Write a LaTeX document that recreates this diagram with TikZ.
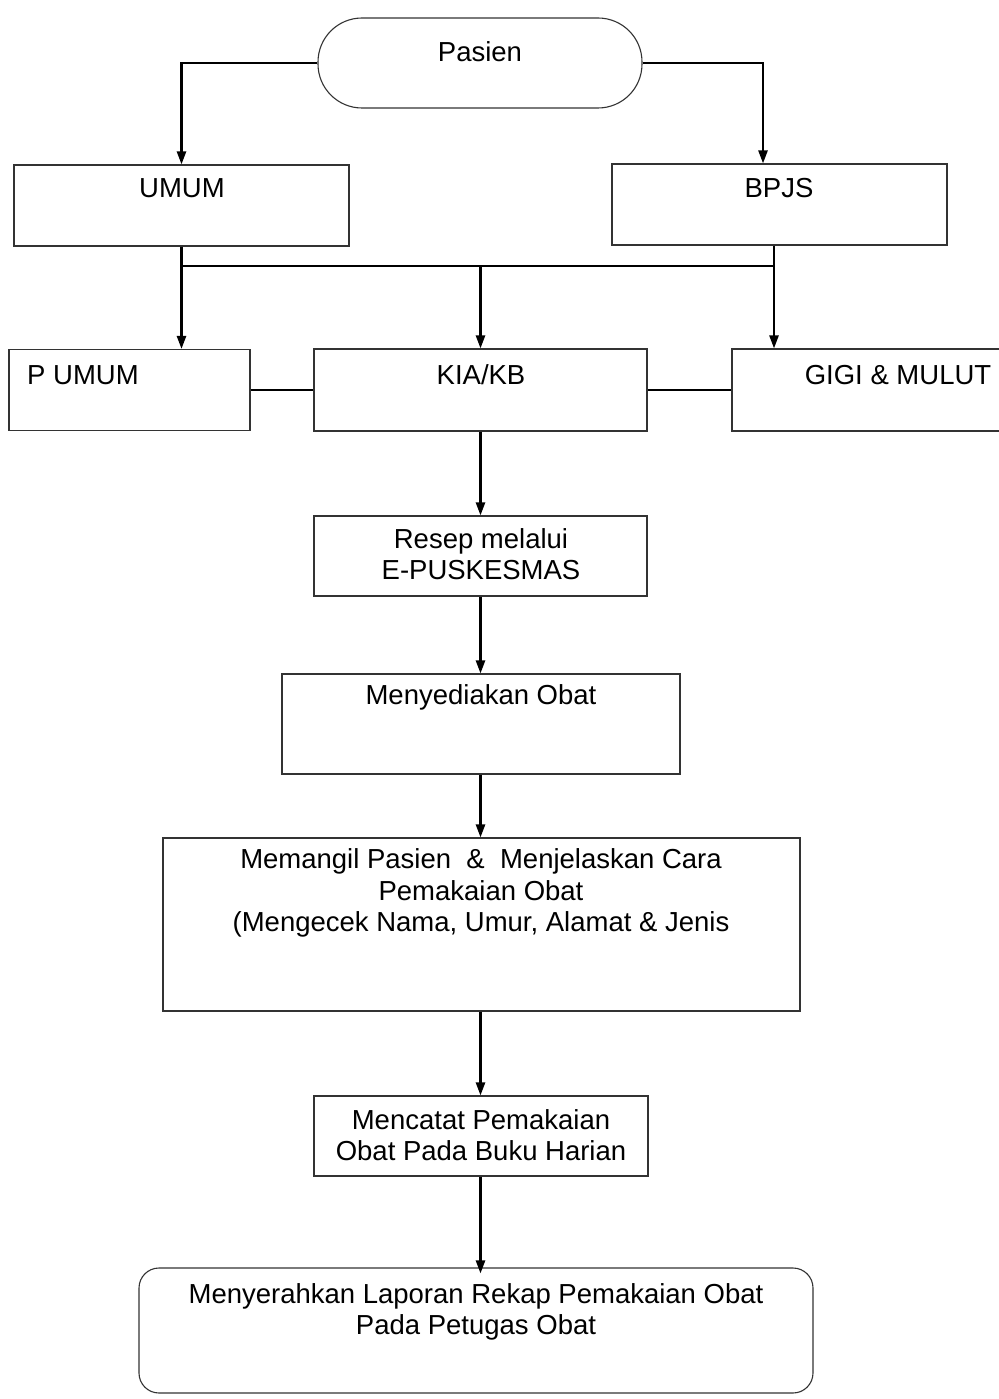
\documentclass[tikz,border=0pt]{standalone}
\usepackage{fontspec}
\setmainfont{Liberation Sans}
\usetikzlibrary{arrows.meta,calc}
\begin{document}
\begin{tikzpicture}[x=1pt,y=-1pt,
  box/.style={draw=black!80,line width=1.1pt,rectangle,inner sep=0pt},
  txt/.style={inner sep=0pt,align=center,font=\fontsize{27.5}{31.5}\selectfont},
  conn/.style={draw=black,line width=2.4pt},
  arr/.style={conn,-{Triangle[length=13pt,width=9pt]}}]
\useasboundingbox[fill=white] (0,0) rectangle (998,1399);
% boxes
\node[box,rounded corners=44pt,minimum width=324pt,minimum height=90pt] (pasien) at (480,63) {};
\node[box,minimum width=335pt,minimum height=81pt] (umum) at (181.5,205.5) {};
\node[box,minimum width=335pt,minimum height=81pt] (bpjs) at (779.5,204.5) {};
\node[box,minimum width=241pt,minimum height=81pt] (pumum) at (129.5,390) {};
\node[box,minimum width=333pt,minimum height=82pt] (kia) at (480.5,390) {};
\node[box,minimum width=268pt,minimum height=82pt] (gigi) at (866,390) {};
\node[box,minimum width=333pt,minimum height=80pt] (resep) at (480.5,556) {};
\node[box,minimum width=398pt,minimum height=100pt] (sedia) at (481,724) {};
\node[box,minimum width=637pt,minimum height=173pt] (panggil) at (481.5,924.5) {};
\node[box,minimum width=334pt,minimum height=80pt] (catat) at (481,1136) {};
\node[box,rounded corners=20pt,minimum width=674pt,minimum height=125pt] (serah) at (476,1330.5) {};
% texts
\node[txt] (tpasien) at (480,52) {Pasien};
\node[txt] (tumum) at (182,188) {UMUM};
\node[txt] (tbpjs) at (779,188) {BPJS};
\node[txt] (tpumum) at (83,375) {P UMUM};
\node[txt] (tkia) at (481,375) {KIA/KB};
\node[txt] (tgigi) at (898,375) {GIGI \& MULUT};
\node[txt] (tresep) at (481,554) {Resep melalui\\E-PUSKESMAS};
\node[txt] (tsedia) at (481,697) {Menyediakan Obat};
\node[txt] (tpanggil) at (481,893) {Memangil Pasien\ \ \&\ \ Menjelaskan Cara\\Pemakaian Obat\\(Mengecek Nama, Umur, Alamat \& Jenis};
\node[txt] (tcatat) at (481,1135) {Mencatat Pemakaian\\Obat Pada Buku Harian};
\node[txt] (tserah) at (476,1312) {Menyerahkan Laporan Rekap Pemakaian Obat\\Pada Petugas Obat};
% connectors
\coordinate (busL) at (umum.south |- 0,266);
\coordinate (bpjsdown) at ([xshift=-5.5pt]bpjs.south);
\coordinate (busR) at (bpjsdown |- 0,266);
\draw[arr] (pasien.west) -| (umum.north);
\draw[arr] (pasien.east) -| ([xshift=-16.5pt]bpjs.north);
\draw[conn] (busL) -- (busR);
\draw[arr] (umum.south) -- (umum.south |- pumum.north);
\draw[arr] (bpjsdown) -- (bpjsdown |- gigi.north);
\draw[arr] (kia.north |- busL) -- (kia.north);
\draw[conn] (pumum.east) -- (kia.west);
\draw[conn] (kia.east) -- (gigi.west);
\draw[arr] (kia.south) -- (kia.south |- resep.north);
\draw[arr] (kia.south |- resep.south) -- (kia.south |- sedia.north);
\draw[arr] (kia.south |- sedia.south) -- (kia.south |- panggil.north);
\draw[arr] (kia.south |- panggil.south) -- (kia.south |- catat.north);
\draw[arr] (kia.south |- catat.south) -- ([yshift=-6pt]kia.south |- serah.north);
\end{tikzpicture}
\end{document}
